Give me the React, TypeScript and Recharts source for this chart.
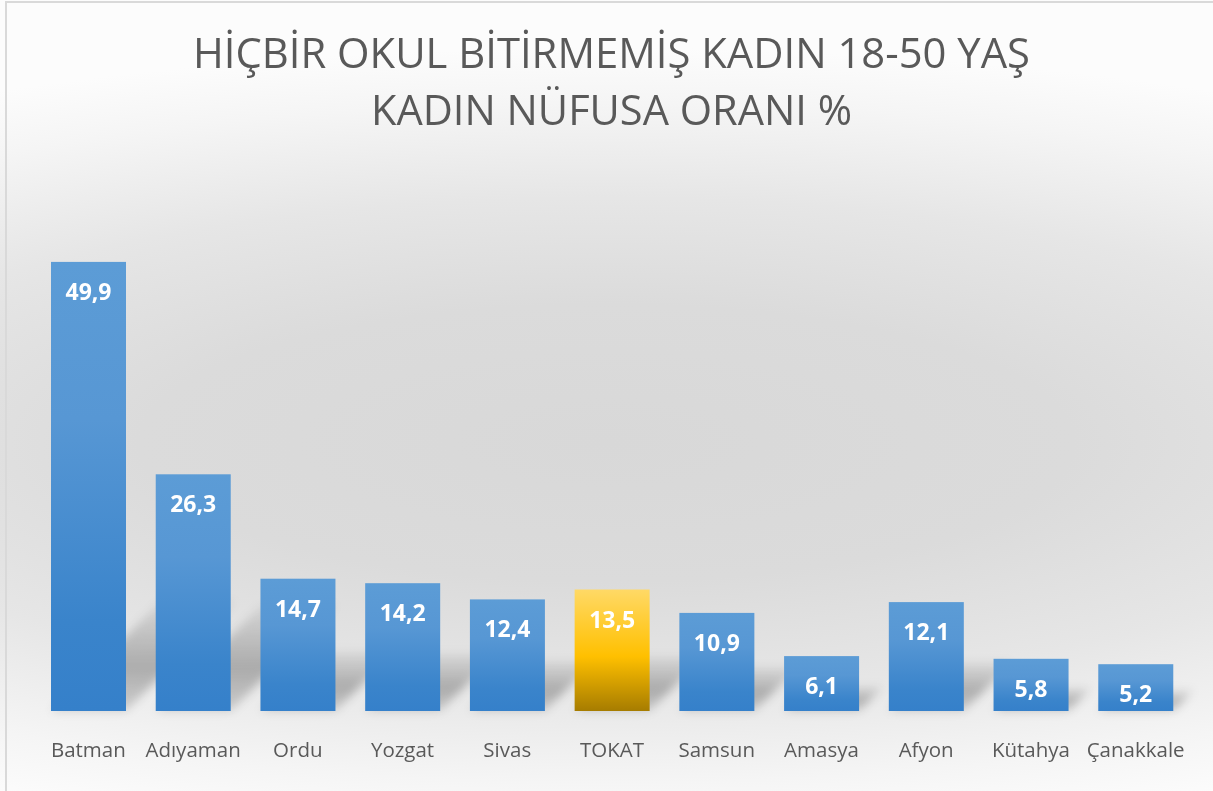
import React from 'react';
import { BarChart, Bar, XAxis, YAxis, LabelList } from 'recharts';

const categories = ['Batman', 'Adıyaman', 'Ordu', 'Yozgat', 'Sivas', 'TOKAT', 'Samsun', 'Amasya', 'Afyon', 'Kütahya', 'Çanakkale'];
const values = [49.9, 26.3, 14.7, 14.2, 12.4, 13.5, 10.9, 6.1, 12.1, 5.8, 5.2];
const titleLines = ['HİÇBİR OKUL BİTİRMEMİŞ KADIN 18-50 YAŞ', 'KADIN NÜFUSA ORANI %'];
const highlighted = 'TOKAT';

const data = categories.map((name, i) => ({ name, value: values[i] }));

const FONT = '"Open Sans", "DejaVu Sans", sans-serif';

const BarShape = (props: any) => {
  const { x, y, width, height, index, payload } = props;
  if (height <= 0) return null;
  const base = y + height;
  const sh = Math.min(height * 0.45, 110);
  const gold = payload && payload.name === highlighted;
  const gid = `grad-${index}`;
  const sid = `shgrad-${index}`;
  const fid = `blur-${index}`;
  return (
    <g>
      <defs>
        <linearGradient id={gid} x1="0" y1="0" x2="0" y2="1">
          {gold ? (
            <>
              <stop offset="0%" stopColor="#ffd966" />
              <stop offset="55%" stopColor="#ffc000" />
              <stop offset="100%" stopColor="#a67c00" />
            </>
          ) : (
            <>
              <stop offset="0%" stopColor="#5c9cd6" />
              <stop offset="35%" stopColor="#5797d4" />
              <stop offset="80%" stopColor="#3a84cb" />
              <stop offset="100%" stopColor="#3580ca" />
            </>
          )}
        </linearGradient>
        <linearGradient id={sid} x1="0" y1="1" x2="0" y2="0">
          <stop offset="0%" stopColor="#000" stopOpacity={0.14} />
          <stop offset="40%" stopColor="#000" stopOpacity={0.26} />
          <stop offset="100%" stopColor="#000" stopOpacity={0.05} />
        </linearGradient>
        <filter id={fid} x="-50%" y="-50%" width="200%" height="200%">
          <feGaussianBlur stdDeviation="5" />
        </filter>
      </defs>
      <polygon
        points={`${x},${base} ${x + width},${base} ${x + width + sh},${base - sh} ${x + sh},${base - sh}`}
        fill={`url(#${sid})`}
        filter={`url(#${fid})`}
      />
      <rect x={x} y={y} width={width} height={height} fill={`url(#${gid})`} />
    </g>
  );
};

const ValueLabel = (props: any) => {
  const { x, y, width, value } = props;
  return (
    <text
      x={x + width / 2}
      y={y + 38}
      textAnchor="middle"
      fill="#ffffff"
      fontFamily={FONT}
      fontWeight={700}
      fontSize={23}
    >
      {Number(value).toFixed(1).replace('.', ',')}
    </text>
  );
};

const CategoryTick = (props: any) => {
  const { x, y, payload } = props;
  return (
    <text x={x} y={y + 46} textAnchor="middle" fill="#595959" fontFamily={FONT} fontSize={20.5}>
      {payload.value}
    </text>
  );
};

export default function App() {
  return (
    <div
      style={{
        position: 'fixed',
        left: 0,
        top: 0,
        width: 1213,
        height: 791,
        overflow: 'hidden',
        background:
          'radial-gradient(ellipse 110% 50% at 50% 56%, #d8d8d8 0%, #dbdbdb 35%, #e6e6e6 62%, #f5f5f5 86%, #fcfcfc 100%)',
      }}
    >
      <div
        style={{
          position: 'absolute',
          left: 5,
          top: 1,
          width: 1213,
          height: 800,
          borderLeft: '2px solid #d9d9d9',
          borderTop: '2px solid #d9d9d9',
          boxSizing: 'border-box',
        }}
      />
      <svg style={{ position: 'absolute', left: 0, top: 0 }} width={1213} height={150}>
        <text
          x={611.5}
          y={68}
          textAnchor="middle"
          fill="#595959"
          fontFamily={FONT}
          fontSize={42}
          textLength={837}
          lengthAdjust="spacingAndGlyphs"
        >
          {titleLines[0]}
        </text>
        <text
          x={611.5}
          y={125}
          textAnchor="middle"
          fill="#595959"
          fontFamily={FONT}
          fontSize={42}
          textLength={481}
          lengthAdjust="spacingAndGlyphs"
        >
          {titleLines[1]}
        </text>
      </svg>
      <div style={{ position: 'absolute', left: 0, top: 0 }}>
        <BarChart width={1213} height={791} data={data} margin={{ top: 261, right: 25, left: 36, bottom: 0 }}>
          <XAxis
            dataKey="name"
            height={80}
            axisLine={false}
            tickLine={false}
            tickSize={0}
            tickMargin={0}
            interval={0}
            tick={<CategoryTick />}
          />
          <YAxis hide domain={[0, 50]} />
          <Bar dataKey="value" barSize={75} isAnimationActive={false} shape={<BarShape />}>
            <LabelList dataKey="value" content={<ValueLabel />} />
          </Bar>
        </BarChart>
      </div>
    </div>
  );
}
